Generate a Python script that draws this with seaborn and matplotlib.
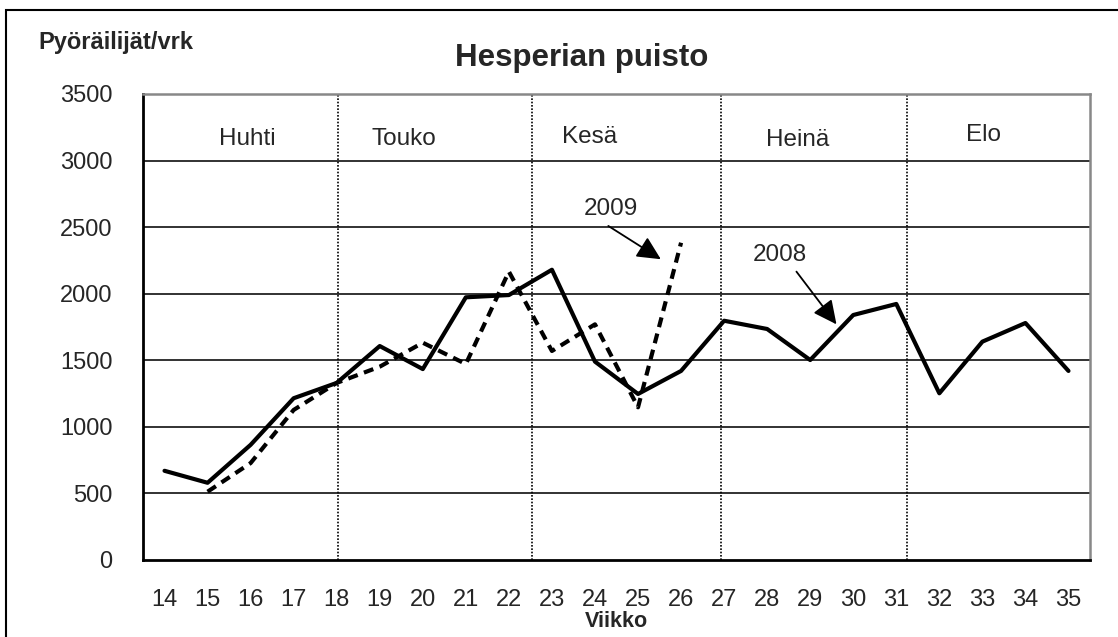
import numpy as np
import pandas as pd
import matplotlib
matplotlib.use("Agg")
import matplotlib.pyplot as plt
import seaborn as sns
from matplotlib.patches import Rectangle

# Weekly cyclist counts, Hesperian puisto
weeks = [14, 15, 16, 17, 18, 19, 20, 21, 22, 23, 24,
         25, 26, 27, 28, 29, 30, 31, 32, 33, 34, 35]
cyclists_2008 = [670, 580, 865, 1215, 1330, 1607, 1434, 1973, 1990, 2180, 1490,
                 1247, 1420, 1797, 1735, 1502, 1840, 1923, 1252, 1640, 1780, 1420]
cyclists_2009 = [np.nan, 513, 728, 1127, 1330, 1452, 1632, 1472, 2166, 1570, 1770,
                 1147, 2383, np.nan, np.nan, np.nan, np.nan, np.nan, np.nan, np.nan,
                 np.nan, np.nan]
months = ["Huhti", "Touko", "Kesä", "Heinä", "Elo"]
month_label_x = [15.92, 19.55, 23.88, 28.71, 33.02]
month_label_y = [3162, 3162, 3179, 3155, 3192]
month_bounds = [18.03, 22.54, 26.93, 31.25]

df = pd.DataFrame({"Viikko": weeks, "2008": cyclists_2008, "2009": cyclists_2009})

sns.set_style("white")
plt.rcParams["font.family"] = ["Liberation Sans", "DejaVu Sans"]

fig = plt.figure(figsize=(11.18, 6.37), dpi=100)
ax = fig.add_axes([143 / 1118, 1 - 560 / 637, (1090 - 143) / 1118, (560 - 94) / 637])

# horizontal gridlines
for v in [500, 1000, 1500, 2000, 2500, 3000]:
    ax.axhline(v, color="#222222", lw=1.3, zorder=1)
# month boundaries
for b in month_bounds:
    ax.axvline(b, color="black", lw=1.2, ls=(0, (1, 1)), zorder=1)

sns.lineplot(data=df, x="Viikko", y="2008", color="black", lw=3, ax=ax, zorder=3)
sns.lineplot(data=df.dropna(), x="Viikko", y="2009", color="black", lw=3,
             dashes=False, ax=ax, zorder=3)
ax.lines[-1].set_dashes([2.4, 1.6])

for name, mx, my in zip(months, month_label_x, month_label_y):
    ax.text(mx, my, name, ha="center", va="center", fontsize=17.5)

arrow = dict(arrowstyle="-|>,head_length=0.45,head_width=0.22", color="black",
             lw=1.3, mutation_scale=32, shrinkA=0, shrinkB=0)
ax.text(24.37, 2636, "2009", ha="center", va="center", fontsize=17.5)
ax.annotate("", xy=(25.53, 2259), xytext=(24.31, 2509), arrowprops=arrow)
ax.text(28.3, 2291, "2008", ha="center", va="center", fontsize=17.5)
ax.annotate("", xy=(29.61, 1770), xytext=(28.68, 2166), arrowprops=arrow)

ax.set_xlim(13.5, 35.5)
ax.set_ylim(0, 3500)
ax.set_yticks([0, 500, 1000, 1500, 2000, 2500, 3000, 3500])
ax.set_xticks(weeks)
ax.set_xticklabels([str(w) for w in weeks])
ax.set_xticks(np.arange(13.5, 36, 1.0), minor=True)
ax.tick_params(axis="x", which="major", length=0, labelsize=17, pad=21)
ax.tick_params(axis="x", which="minor", length=7, width=1.5, direction="out", color="black")
ax.tick_params(axis="y", length=8, width=1.5, direction="out", color="black",
               labelsize=17, pad=14)
ax.set_xlabel("Viikko", fontsize=15.5, fontweight="bold", labelpad=0)
ax.set_ylabel("")

for side in ["left", "bottom"]:
    ax.spines[side].set_color("black")
    ax.spines[side].set_linewidth(2)
for side in ["top", "right"]:
    ax.spines[side].set_color("#888888")
    ax.spines[side].set_linewidth(1.8)

fig.text(582 / 1118, 1 - 58 / 637, "Hesperian puisto", ha="center", va="center",
         fontsize=22.5, fontweight="bold")
fig.text(38 / 1118, 1 - 42 / 637, "Pyöräilijät/vrk", ha="left", va="center",
         fontsize=17, fontweight="bold")

# chart area border
fig.add_artist(Rectangle((6 / 1118, -0.2), 1.5, 1.2 + (1 - 10 / 637) - 1,
                         transform=fig.transFigure, fill=False, lw=1.5, color="black"))

fig.savefig("out.png", dpi=100)
